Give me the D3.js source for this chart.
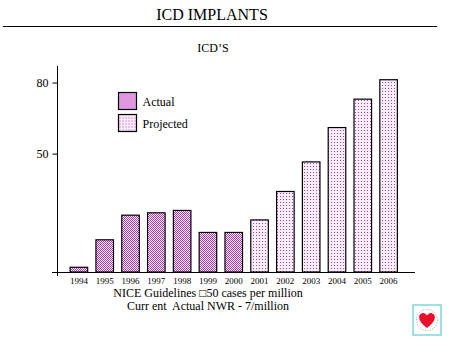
<!DOCTYPE html>
<html>
<head>
<meta charset="utf-8">
<script src="https://cdn.jsdelivr.net/npm/d3@7"></script>
<style>
  body { margin: 0; background: #fff; }
  svg { display: block; font-family: "Liberation Serif", "DejaVu Serif", serif; }
</style>
</head>
<body>
<div id="chart"></div>
<script>
// data
const years = ["1994", "1995", "1996", "1997", "1998", "1999", "2000",
               "2001", "2002", "2003", "2004", "2005", "2006"];
const values = [2, 13.6, 24, 25, 26, 16.7, 16.7, 22, 34, 46.5, 61, 73, 81.2];
const kinds = ["Actual", "Actual", "Actual", "Actual", "Actual", "Actual", "Actual",
               "Projected", "Projected", "Projected", "Projected", "Projected", "Projected"];
const yTicks = [0, 50, 80];
const legendItems = ["Actual", "Projected"];

const width = 460, height = 353;

const svg = d3.select("#chart")
    .append("svg")
    .attr("width", width)
    .attr("height", height);

// fill patterns
const defs = svg.append("defs");
const pa = defs.append("pattern")
    .attr("id", "pat-actual")
    .attr("width", 2).attr("height", 2)
    .attr("patternUnits", "userSpaceOnUse");
pa.append("rect").attr("width", 2).attr("height", 2).attr("fill", "#ffffff");
pa.append("rect").attr("width", 1).attr("height", 1).attr("fill", "#c030c0");
pa.append("rect").attr("x", 1).attr("y", 1).attr("width", 1).attr("height", 1).attr("fill", "#c030c0");

const pp = defs.append("pattern")
    .attr("id", "pat-projected")
    .attr("width", 3).attr("height", 3)
    .attr("patternUnits", "userSpaceOnUse");
pp.append("rect").attr("width", 3).attr("height", 3).attr("fill", "#fbeefb");
pp.append("rect").attr("x", 1).attr("y", 1).attr("width", 1).attr("height", 1).attr("fill", "#b040b0");

const fillOf = k => k === "Actual" ? "url(#pat-actual)" : "url(#pat-projected)";

// title + rule
svg.append("text")
    .attr("x", 212).attr("y", 20)
    .attr("text-anchor", "middle")
    .style("font-size", "16px")
    .text("ICD IMPLANTS");

svg.append("line")
    .attr("x1", 3).attr("x2", 437)
    .attr("y1", 26.5).attr("y2", 26.5)
    .attr("stroke", "#000").attr("stroke-width", 1);

svg.append("text")
    .attr("x", 213).attr("y", 52)
    .attr("text-anchor", "middle")
    .style("font-size", "12px")
    .text("ICD\u2019S");

// scales
const x = d3.scaleBand()
    .domain(years)
    .range([66, 401.5])
    .paddingInner(0.32)
    .paddingOuter(0.16);

const y = d3.scaleLinear()
    .domain([0, 87])
    .range([272, 66]);

// y axis
const yAxis = svg.append("g")
    .attr("transform", "translate(57.5,0)")
    .call(d3.axisLeft(y).tickValues(yTicks).tickSize(5).tickFormat(d => d === 0 ? "" : d));
yAxis.select(".domain").remove();
yAxis.selectAll("text")
    .style("font-family", "Liberation Serif, serif")
    .style("font-size", "12px")
    .attr("x", -9);

svg.append("line")
    .attr("x1", 57.5).attr("x2", 57.5)
    .attr("y1", 66).attr("y2", 276)
    .attr("stroke", "#000");

// x axis line
svg.append("line")
    .attr("x1", 52).attr("x2", 415)
    .attr("y1", 272.5).attr("y2", 272.5)
    .attr("stroke", "#000");

// year labels
svg.append("g")
    .selectAll("text")
    .data(years)
    .join("text")
    .attr("x", d => x(d) + x.bandwidth() / 2)
    .attr("y", 284)
    .attr("text-anchor", "middle")
    .style("font-size", "9px")
    .text(d => d);

// bars
svg.append("g")
    .selectAll("rect")
    .data(years.map((yr, i) => ({ year: yr, value: values[i], kind: kinds[i] })))
    .join("rect")
    .attr("x", d => x(d.year))
    .attr("y", d => y(d.value))
    .attr("width", x.bandwidth())
    .attr("height", d => y(0) - y(d.value))
    .attr("fill", d => fillOf(d.kind))
    .attr("stroke", "#000")
    .attr("stroke-width", 1.2);

// legend
const legend = svg.append("g").attr("transform", "translate(118.5,92.5)");
legendItems.forEach((item, i) => {
    const yOff = i * 22;
    legend.append("rect")
        .attr("x", 0).attr("y", yOff)
        .attr("width", 18).attr("height", 17)
        .attr("fill", fillOf(item))
        .attr("stroke", "#000")
        .attr("stroke-width", 1.2);
    legend.append("text")
        .attr("x", 24).attr("y", yOff + 13)
        .style("font-size", "12px")
        .text(item);
});

// footnote
svg.append("text")
    .attr("x", 208).attr("y", 297)
    .attr("text-anchor", "middle")
    .style("font-size", "12px")
    .text("NICE Guidelines \u25a150 cases per million");
svg.append("text")
    .attr("x", 208).attr("y", 310)
    .attr("text-anchor", "middle")
    .style("font-size", "12px")
    .style("white-space", "pre")
    .text("Curr ent  Actual NWR - 7/million");

// small logo bottom right
const logo = svg.append("g").attr("transform", "translate(413,305)");
logo.append("rect")
    .attr("width", 28).attr("height", 30)
    .attr("fill", "#fff")
    .attr("stroke", "#7fd6dc")
    .attr("stroke-width", 1.5);
logo.append("circle")
    .attr("cx", 14).attr("cy", 15).attr("r", 10.5)
    .attr("fill", "none")
    .attr("stroke", "#666")
    .attr("stroke-width", 0.6)
    .attr("stroke-dasharray", "1,1.5");
logo.append("path")
    .attr("d", "M14 23 C6 17 5 12 7 9.5 C9 7 12.5 7.5 14 10.5 C15.5 7.5 19 7 21 9.5 C23 12 22 17 14 23 Z")
    .attr("fill", "#e8102a");
</script>
</body>
</html>
